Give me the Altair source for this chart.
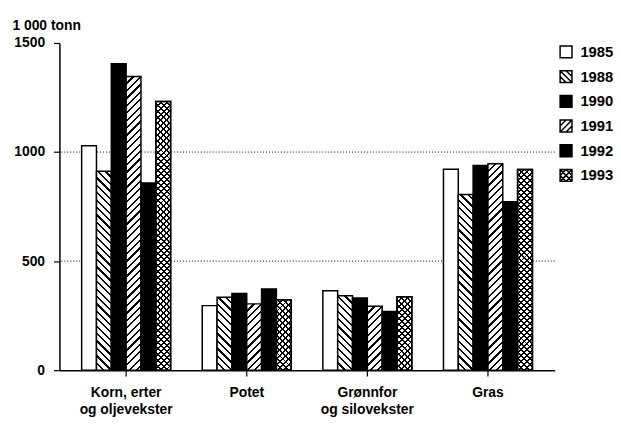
import altair as alt

# ---------------- data ----------------
CATS = ["Korn, erter\nog oljevekster", "Potet", "Grønnfor\nog silovekster", "Gras"]
YEARS = ["1985", "1988", "1990", "1991", "1992", "1993"]
KORN = [1029, 912, 1405, 1346, 858, 1232]
POTET = [296, 334, 352, 304, 372, 323]
GRONNFOR = [364, 341, 331, 293, 269, 337]
GRAS = [921, 805, 938, 946, 772, 920]
Y_TICKS = [0, 500, 1000, 1500]
GRID_LINES = [500, 1000]
Y_TITLE = "1 000 tonn"

# ---------------- layout / style ----------------
FONT = "Liberation Sans"
FW = "bold"
FS = 14
W, H = 501, 331
YMAX = 1500
P_IN, P_OUT = 32 / 122, 22.5 / 122
STEP = W / (len(CATS) - P_IN + 2 * P_OUT)
BAR_W = STEP * (1 - P_IN) / len(YEARS)

PATTERN = {"1985": "white", "1988": "back", "1990": "black",
           "1991": "fwd", "1992": "black", "1993": "cross"}


def hatch(kind, h, w=BAR_W, period=7.5, thick=2.3, bg="white", fg="black"):
    """Linear gradient (objectBoundingBox) giving 45deg stripes on a w x h rect."""
    h = max(h, 1.0)
    span = w + h
    k = w / (w * w + h * h)
    stops = [{"offset": 0, "color": bg}]
    n = 1
    while n * period - thick / 2 < span:
        a = min((n * period - thick / 2) * k, 1)
        b = min((n * period + thick / 2) * k, 1)
        stops += [{"offset": a, "color": bg}, {"offset": a, "color": fg},
                  {"offset": b, "color": fg}, {"offset": b, "color": bg}]
        n += 1
    if kind == "fwd":      # '/'
        g = {"x1": 0, "y1": 0, "x2": 1, "y2": h / w}
    else:                  # '\'
        g = {"x1": 0, "y1": 1, "x2": 1, "y2": 1 - h / w}
    g.update({"gradient": "linear", "stops": stops})
    return g


rows = []
for cat, vals in zip(CATS, [KORN, POTET, GRONNFOR, GRAS]):
    for yr, v in zip(YEARS, vals):
        h = v / YMAX * H
        kind = PATTERN[yr]
        if kind in ("white", "black"):
            f = kind
        elif kind == "cross":
            f = hatch("fwd", h, period=6, thick=2.0)
        else:
            f = hatch(kind, h)
        f2 = hatch("back", h, period=6, thick=2.0, bg="rgba(0,0,0,0)") if kind == "cross" else "rgba(0,0,0,0)"
        rows.append({"cat": cat, "year": yr, "value": v, "fill": f, "fill2": f2})

data = alt.Data(values=rows)
grid_data = alt.Data(values=[{"value": g} for g in GRID_LINES])

y_axis = alt.Axis(values=Y_TICKS, format="d", grid=False, title=Y_TITLE, titleAngle=0,
                  titleAlign="left", titleBaseline="alphabetic", titleX=-48, titleY=-14,
                  titleFont=FONT, titleFontSize=FS, titleFontWeight=FW, titleColor="black",
                  labelFont=FONT, labelFontSize=FS, labelFontWeight=FW, labelColor="black",
                  labelPadding=9, tickSize=6, tickColor="black", tickWidth=1.2,
                  domainColor="black", domainWidth=1.5)
Y = alt.Y("value:Q", scale=alt.Scale(domain=[0, YMAX], nice=False), axis=y_axis)

X = alt.X("cat:N", sort=CATS,
          scale=alt.Scale(paddingInner=P_IN, paddingOuter=P_OUT),
          axis=alt.Axis(title=None, labelAngle=0, labelExpr="split(datum.label, '\\n')",
                        labelFont=FONT, labelFontSize=FS, labelFontWeight=FW, labelColor="black",
                        labelLineHeight=17, labelPadding=10, labelBaseline="top",
                        tickSize=6, tickColor="black", tickWidth=1.2,
                        domainColor="black", domainWidth=1.5))
XO = alt.XOffset("year:N", sort=YEARS, scale=alt.Scale(paddingInner=0, paddingOuter=0))

grid = alt.Chart(grid_data).mark_rule(stroke="black", strokeDash=[1, 2], strokeWidth=1).encode(y=Y)

bars = alt.Chart(data).mark_bar(stroke="black", strokeWidth=1.5).encode(
    x=X, xOffset=XO, y=Y, fill=alt.Fill("fill:N", scale=None))

cross = alt.Chart(data).transform_filter(alt.datum.year == "1993").mark_bar(
    stroke="black", strokeWidth=1.5).encode(
    x=X, xOffset=XO, y=Y, fill=alt.Fill("fill2:N", scale=None))

SQ = "M-1,-1H1V1H-1Z"
BACK = " M-1,-1L1,1 M0,-1L1,0 M-1,0L0,1"
FWD = " M-1,1L1,-1 M-1,0L0,-1 M0,1L1,0"
shape_range = [SQ, SQ + BACK, SQ, SQ + FWD, SQ, SQ + BACK + FWD]
color_range = ["white", "white", "black", "white", "black", "white"]

leg = alt.Legend(title=None, orient="none", legendX=505, legendY=1.5, symbolSize=144,
                 symbolStrokeWidth=1.5, symbolOpacity=1,
                 labelFont=FONT, labelFontSize=15, labelFontWeight=FW, labelColor="black",
                 labelOffset=7, rowPadding=6, padding=0)

legend_layer = alt.Chart(data).transform_filter("false").mark_point(
    filled=True, strokeWidth=1.5).encode(
    x=X, y=Y,
    color=alt.Color("year:N", scale=alt.Scale(domain=YEARS, range=color_range), legend=leg),
    stroke=alt.Stroke("year:N", scale=alt.Scale(domain=YEARS, range=["black"] * len(YEARS)), legend=leg),
    shape=alt.Shape("year:N", scale=alt.Scale(domain=YEARS, range=shape_range), legend=leg))

chart = alt.layer(grid, bars, cross, legend_layer).properties(
    width=W, height=H,
    autosize=alt.AutoSizeParams(type="none"),
    padding={"left": 52, "top": 33, "right": 59, "bottom": 48},
    background="white",
).configure_view(stroke=None)

chart.save("out.html", embed_options={"renderer": "svg", "actions": False})
